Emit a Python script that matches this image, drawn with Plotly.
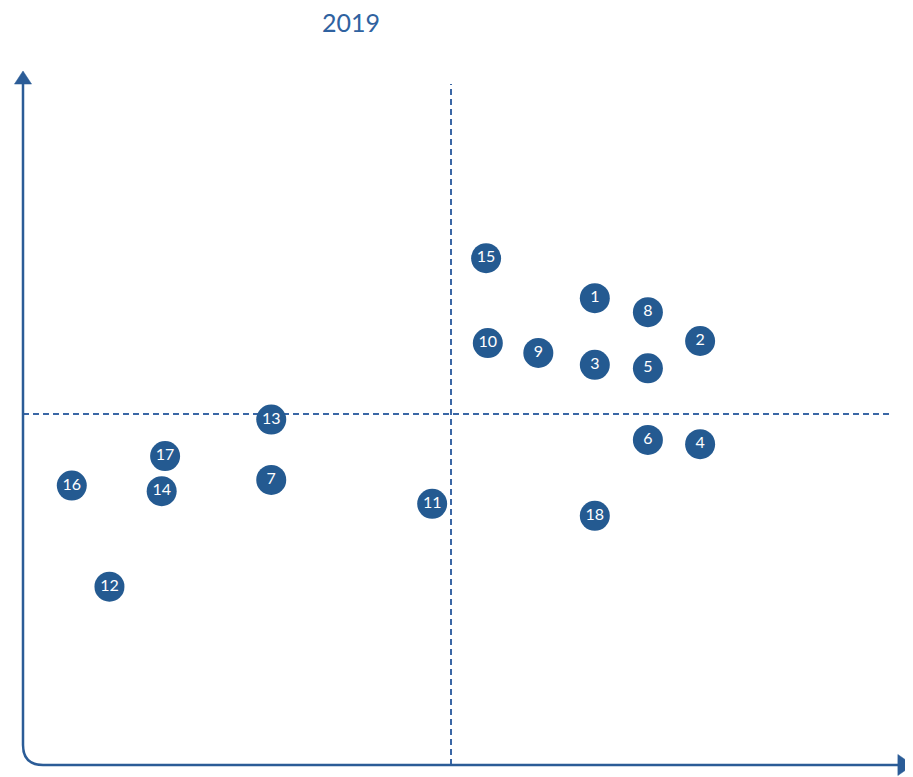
import plotly.graph_objects as go

# Data (arbitrary units; quadrant dividers at 5)
labels = ["1", "2", "3", "4", "5", "6", "7", "8", "9", "10",
          "11", "12", "13", "14", "15", "16", "17", "18"]
x_vals = [6.68, 7.91, 6.68, 7.91, 7.30, 7.30, 2.90, 7.30, 6.02, 5.43,
          4.78, 1.01, 2.90, 1.62, 5.41, 0.57, 1.66, 6.68]
y_vals = [6.65, 6.04, 5.70, 4.57, 5.65, 4.63, 4.06, 6.45, 5.87, 6.01,
          3.72, 2.54, 4.92, 3.90, 7.22, 3.98, 4.40, 3.55]
x_mid = 5.0
y_mid = 5.0
title_text = "2019"

AXIS_COL = "#2b5c97"
DASH_COL = "#3a67a6"
MARK_COL = "#245a91"

W, H = 905, 769
x_range = [-0.1168, 10.397]
y_range = [-0.1709, 10.185]

fig = go.Figure()
fig.add_trace(go.Scatter(
    x=x_vals, y=y_vals, text=labels, mode="markers+text",
    marker=dict(size=30, color=MARK_COL, line=dict(width=0)),
    textposition="middle center",
    textfont=dict(color="white", size=16, family="Lato, sans-serif"),
    hoverinfo="skip", showlegend=False, cliponaxis=False,
))

shapes = []
# dashed quadrant lines
shapes.append(dict(type="line", xref="x", yref="y", x0=x_mid, x1=x_mid, y0=0, y1=9.70,
                   line=dict(color=DASH_COL, width=2, dash="6px,4px"), layer="below"))
shapes.append(dict(type="line", xref="x", yref="y", x0=0, x1=10.14, y0=y_mid, y1=y_mid,
                   line=dict(color=DASH_COL, width=2, dash="6px,4px"), layer="below"))
# axes with rounded corner
shapes.append(dict(type="path", xref="x", yref="y",
                   path="M 0,9.70 L 0,0.285 Q 0,0 0.234,0 L 10.23,0",
                   line=dict(color=AXIS_COL, width=2.5)))
# arrow heads
shapes.append(dict(type="path", xref="x", yref="y",
                   path="M -0.1,9.70 L 0.1,9.70 L 0,9.886 Z",
                   fillcolor=AXIS_COL, line=dict(color=AXIS_COL, width=0.5)))
shapes.append(dict(type="path", xref="x", yref="y",
                   path="M 10.22,-0.15 L 10.22,0.15 L 10.397,0 Z",
                   fillcolor=AXIS_COL, line=dict(color=AXIS_COL, width=0.5)))

fig.update_layout(
    width=W, height=H,
    margin=dict(l=5, r=0, t=42, b=0),
    paper_bgcolor="white", plot_bgcolor="white",
    xaxis=dict(range=x_range, visible=False, fixedrange=True),
    yaxis=dict(range=y_range, visible=False, fixedrange=True),
    shapes=shapes,
    annotations=[dict(text=title_text, xref="paper", yref="paper",
                      x=(343 - 5) / 900, y=1 + (42 - 14) / 727,
                      xanchor="center", yanchor="middle", showarrow=False,
                      font=dict(size=25, color="#2f62a0", family="Lato, sans-serif"))],
)

fig.write_html("out.html")
